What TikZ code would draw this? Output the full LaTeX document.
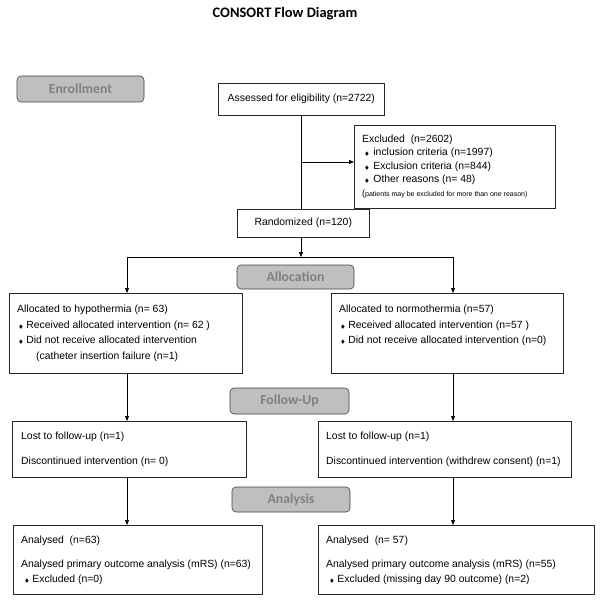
\documentclass[tikz,border=0pt]{standalone}
\usepackage{amssymb}
\usepackage{fontspec}
\setmainfont{Liberation Sans}
\newfontfamily\calibri{Carlito}
\usetikzlibrary{arrows.meta,positioning}
\definecolor{stagefill}{HTML}{BFBFBF}
\definecolor{stagetext}{HTML}{808080}
\definecolor{stageline}{HTML}{404040}
\newcommand{\dia}{{\fontsize{5}{5}\selectfont$\blacklozenge$}}

\begin{document}
\begin{tikzpicture}[x=1pt, y=-1pt,
    box/.style={draw=black!85, line width=0.6pt, anchor=north west, inner sep=0pt},
    txt/.style={anchor=north west, inner sep=0pt, align=left,
      font=\fontsize{10.4}{15.5}\selectfont},
    stage/.style={draw=stageline, fill=stagefill, rounded corners=4pt,
      line width=0.6pt, text=stagetext, inner sep=0pt,
      font=\calibri\bfseries\fontsize{13.8}{14}\selectfont},
    arr/.style={-{Triangle[length=5pt,width=4pt]}, line width=0.7pt},
    lin/.style={line width=0.7pt}]
  \useasboundingbox (0,0) rectangle (602,604);

  \node (title) at (285,14) {\calibri\bfseries\fontsize{14.5}{15}\selectfont CONSORT Flow Diagram};

  \node[stage, minimum width=127pt, minimum height=26pt] (enroll) at (80.5,89) {Enrollment};
  \node[stage, minimum width=117pt, minimum height=24pt] (alloc) at (295.5,277) {Allocation};
  \node[stage, minimum width=119pt, minimum height=26pt] (follow) at (289.5,401) {Follow-Up};
  \node[stage, minimum width=118pt, minimum height=25pt] (analysis) at (291,499.5) {Analysis};

  \node[box, minimum width=166pt, minimum height=32pt, font=\fontsize{10.4}{12}\selectfont]
    (assessed) at (218,83) {Assessed for eligibility (n=2722)};
  \node[box, minimum width=201pt, minimum height=83pt] (excluded) at (354,125) {};
  \node[box, minimum width=132pt, minimum height=28pt, font=\fontsize{10.4}{12}\selectfont]
    (randomized) at (237,209) {Randomized (n=120)};

  \node[box, minimum width=233pt, minimum height=80pt] (allocL) at (9,293) {};
  \node[box, minimum width=232pt, minimum height=80pt] (allocR) at (331,293) {};
  \node[box, minimum width=234pt, minimum height=56pt] (fuL) at (12,421) {};
  \node[box, minimum width=253pt, minimum height=56pt] (fuR) at (318,421) {};
  \node[box, minimum width=249pt, minimum height=69pt] (anL) at (13,525) {};
  \node[box, minimum width=276pt, minimum height=69pt] (anR) at (318,525) {};

  \node[txt, font=\fontsize{10.4}{13.5}\selectfont] (excludedtxt) at (362,134.5) {Excluded \ (n=2602)\\
    \hspace{2.5pt}\dia\hspace{4pt}inclusion criteria (n=1997)\\
    \hspace{2.5pt}\dia\hspace{4pt}Exclusion criteria (n=844)\\
    \hspace{2.5pt}\dia\hspace{4pt}Other reasons (n= 48)\\
    {\fontsize{9}{9}\selectfont(}{\fontsize{7}{7}\selectfont patients may be excluded for more than one reason)}};

  \node[txt] (allocLtxt) at (17,305) {Allocated to hypothermia (n= 63)\\
    \hspace{1.5pt}\dia\hspace{3pt}Received allocated intervention (n= 62 )\\
    \hspace{1.5pt}\dia\hspace{3pt}Did not receive allocated intervention\\
    \hspace{19pt}(catheter insertion failure (n=1)};
  \node[txt] (allocRtxt) at (339,305) {Allocated to normothermia (n=57)\\
    \hspace{1.5pt}\dia\hspace{3pt}Received allocated intervention (n=57 )\\
    \hspace{1.5pt}\dia\hspace{3pt}Did not receive allocated intervention (n=0)};

  \node[txt] (fuLtxt) at (21,432) {Lost to follow-up (n=1)\\[9.5pt]
    Discontinued intervention (n= 0)};
  \node[txt] (fuRtxt) at (326,432) {Lost to follow-up (n=1)\\[9.5pt]
    Discontinued intervention (withdrew consent) (n=1)};

  \node[txt] (anLtxt) at (21,536) {Analysed \ (n=63)\\[8pt]
    Analysed primary outcome analysis (mRS) (n=63)\\
    \hspace{3.5pt}\dia\hspace{3pt}Excluded (n=0)};
  \node[txt] (anRtxt) at (326,536) {Analysed \ (n= 57)\\[8pt]
    Analysed primary outcome analysis (mRS) (n=55)\\
    \hspace{3.5pt}\dia\hspace{3pt}Excluded (missing day 90 outcome) (n=2)};

  \coordinate (split) at (301,162);
  \coordinate (brL) at (127,257);
  \coordinate (brR) at (453,257);

  \draw[lin] (assessed.south -| split) -- (randomized.north -| split);
  \draw[arr] (split) -- (split -| excluded.west);
  \draw[arr] (randomized.south -| split) -- (split |- brL);
  \draw[lin] (brL) -- (brR);
  \draw[arr] (brL) -- (brL |- allocL.north);
  \draw[arr] (brR) -- (brR |- allocR.north);
  \draw[arr] (brL |- allocL.south) -- (brL |- fuL.north);
  \draw[arr] (brR |- allocR.south) -- (brR |- fuR.north);
  \draw[arr] (brL |- fuL.south) -- (brL |- anL.north);
  \draw[arr] (brR |- fuR.south) -- (brR |- anR.north);
\end{tikzpicture}
\end{document}
